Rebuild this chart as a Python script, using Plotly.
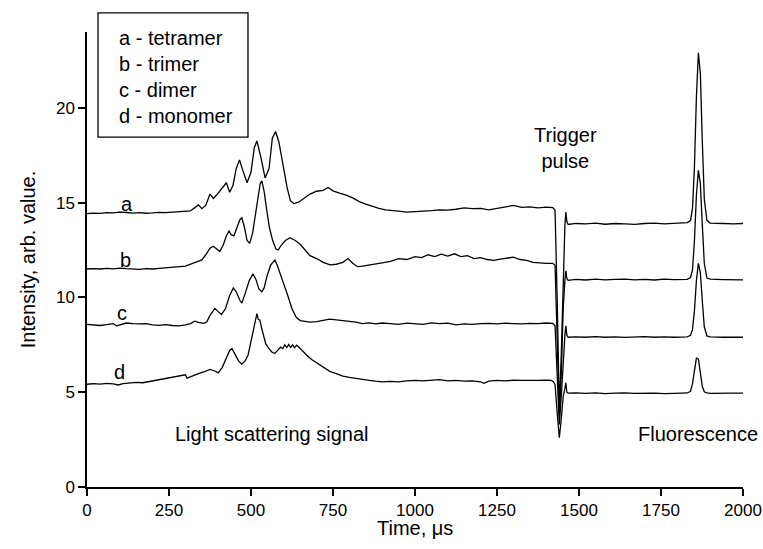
import plotly.graph_objects as go

# scattering part (before the trigger), one time grid per curve
t_a = [0, 20, 40, 60, 80, 100, 120, 140, 160, 180, 200, 220, 240, 260, 280, 300, 315, 330, 340, 350,
       362, 375, 385, 395, 405, 415, 425, 435, 445, 455, 465, 475, 488, 500, 510, 518, 530, 543, 555, 565,
       575, 585, 598, 610, 620, 630, 645, 660, 680, 700, 720, 735, 750, 770, 790, 810, 830, 850, 870, 890,
       910, 930, 950, 975, 1000, 1025, 1050, 1075, 1100, 1125, 1150, 1175, 1200, 1225, 1250, 1275, 1300,
       1325, 1350, 1375, 1400, 1420]
y_a = [14.42, 14.45, 14.43, 14.47, 14.46, 14.50, 14.48, 14.45, 14.47, 14.44, 14.46, 14.49, 14.47, 14.50,
       14.52, 14.53, 14.56, 14.75, 14.88, 14.68, 14.85, 15.45, 15.22, 15.40, 15.60, 15.85, 16.05, 15.55,
       15.90, 16.80, 17.25, 16.70, 16.05, 16.60, 17.90, 18.25, 17.40, 16.30, 16.80, 18.40, 18.75, 18.20,
       16.90, 15.80, 15.10, 14.95, 15.02, 15.20, 15.45, 15.60, 15.65, 15.80, 15.62, 15.50, 15.40, 15.25,
       15.05, 14.92, 14.80, 14.70, 14.62, 14.60, 14.55, 14.50, 14.52, 14.55, 14.58, 14.62, 14.60, 14.65,
       14.72, 14.68, 14.70, 14.62, 14.70, 14.80, 14.85, 14.75, 14.78, 14.72, 14.76, 14.74]

t_b = [0, 20, 40, 60, 80, 100, 120, 140, 160, 180, 200, 220, 240, 260, 280, 300, 320, 335, 350, 362,
       375, 385, 395, 405, 415, 425, 433, 440, 448, 458, 466, 472, 480, 488, 496, 505, 515, 522, 528, 533,
       540, 548, 556, 566, 576, 583, 592, 605, 619, 635, 650, 665, 680, 700, 720, 741, 760, 780, 796, 810,
       825, 840, 860, 880, 900, 925, 950, 975, 1000, 1020, 1040, 1060, 1080, 1100, 1120, 1140, 1160, 1180,
       1200, 1220, 1240, 1260, 1280, 1300, 1320, 1340, 1360, 1380, 1400, 1420]
y_b = [11.50, 11.52, 11.50, 11.53, 11.51, 11.55, 11.52, 11.50, 11.48, 11.52, 11.50, 11.53, 11.55, 11.58,
       11.62, 11.65, 11.78, 11.90, 11.98, 12.25, 12.60, 12.70, 12.55, 12.42, 12.75, 13.25, 13.50, 13.30,
       13.25, 13.75, 14.10, 14.20, 13.70, 13.00, 12.85, 13.40, 14.50, 15.50, 16.00, 16.15, 15.60, 14.60,
       13.70, 13.00, 12.55, 12.50, 12.75, 13.00, 13.15, 13.00, 12.80, 12.50, 12.20, 12.05, 11.85, 11.72,
       11.75, 11.85, 12.05, 11.80, 11.62, 11.65, 11.72, 11.78, 11.82, 11.90, 12.05, 12.00, 12.15, 12.10,
       12.25, 12.15, 12.28, 12.18, 12.30, 12.15, 12.20, 12.05, 12.10, 12.00, 11.95, 12.02, 12.05, 12.12,
       12.00, 11.95, 11.85, 11.82, 11.80, 11.80]

t_c = [0, 20, 40, 60, 80, 90, 100, 120, 140, 160, 180, 200, 220, 240, 260, 280, 300, 315, 329, 340,
       355, 365, 375, 390, 400, 410, 422, 435, 446, 455, 466, 472, 482, 495, 506, 515, 524, 533, 540, 550,
       560, 573, 580, 590, 600, 612, 625, 638, 650, 665, 680, 700, 720, 740, 760, 780, 800, 820, 840, 860,
       880, 900, 925, 950, 975, 1000, 1025, 1050, 1075, 1100, 1125, 1150, 1175, 1200, 1225, 1250, 1275,
       1300, 1325, 1350, 1375, 1400, 1420]
y_c = [8.58, 8.55, 8.52, 8.56, 8.62, 8.50, 8.55, 8.65, 8.62, 8.60, 8.62, 8.55, 8.53, 8.56, 8.52, 8.50,
       8.55, 8.62, 8.75, 8.68, 8.63, 8.70, 9.05, 9.42, 9.25, 9.10, 9.40, 10.10, 10.50, 10.30, 9.85, 9.70,
       10.20, 10.90, 11.25, 10.95, 10.45, 10.30, 10.50, 11.20, 11.70, 11.98, 11.70, 11.20, 10.80, 10.10,
       9.40, 8.95, 8.78, 8.72, 8.70, 8.72, 8.80, 8.85, 8.82, 8.78, 8.72, 8.70, 8.62, 8.66, 8.60, 8.65,
       8.62, 8.58, 8.64, 8.60, 8.58, 8.66, 8.62, 8.64, 8.55, 8.60, 8.58, 8.62, 8.63, 8.60, 8.64, 8.62,
       8.60, 8.63, 8.62, 8.65, 8.63]

t_d = [0, 20, 40, 60, 80, 95, 110, 130, 150, 170, 190, 210, 230, 250, 270, 290, 300, 305, 320, 340,
       360, 375, 390, 400, 412, 425, 435, 442, 450, 462, 472, 482, 491, 500, 508, 514, 518, 522, 527, 535,
       545, 555, 565, 573, 582, 590, 597, 603, 609, 615, 621, 627, 633, 639, 645, 655, 670, 685, 700, 720,
       740, 760, 780, 800, 820, 840, 860, 880, 900, 925, 950, 975, 1000, 1025, 1050, 1075, 1100, 1125,
       1150, 1175, 1200, 1210, 1225, 1250, 1275, 1300, 1325, 1350, 1375, 1400, 1415, 1422]
y_d = [5.42, 5.45, 5.43, 5.47, 5.44, 5.38, 5.45, 5.50, 5.52, 5.50, 5.56, 5.62, 5.68, 5.73, 5.80, 5.85,
       5.92, 5.74, 5.85, 5.98, 6.10, 6.20, 6.12, 6.02, 6.30, 6.85, 7.20, 7.30, 7.05, 6.65, 6.48, 6.65,
       6.95, 7.70, 8.50, 9.00, 9.15, 8.85, 8.80, 8.20, 7.55, 7.30, 7.10, 7.05, 7.20, 7.38, 7.30, 7.50,
       7.35, 7.52, 7.36, 7.50, 7.34, 7.48, 7.40, 7.20, 6.95, 6.72, 6.55, 6.32, 6.10, 5.98, 5.85, 5.78,
       5.72, 5.65, 5.62, 5.58, 5.55, 5.57, 5.55, 5.60, 5.62, 5.60, 5.64, 5.66, 5.60, 5.62, 5.58, 5.60,
       5.55, 5.47, 5.58, 5.62, 5.60, 5.63, 5.62, 5.64, 5.62, 5.63, 5.62, 5.55]

# trigger pulse + fluorescence part, shared time grid
t_post = [1427, 1434, 1440, 1446, 1452, 1457, 1460, 1463, 1467, 1490, 1520, 1550, 1580, 1610, 1640,
          1670, 1700, 1730, 1760, 1790, 1815, 1830, 1840, 1846, 1852, 1858, 1864, 1870, 1876, 1882,
          1890, 1900, 1940, 1970, 2000]
post_a = [14.60, 9.50, 4.10, 7.00, 11.50, 13.80, 14.50, 14.00, 13.85, 13.90, 13.88, 13.92, 13.86, 13.90,
          13.88, 13.85, 13.90, 13.92, 13.88, 13.90, 13.92, 13.95, 14.05, 14.70, 16.90, 20.60, 22.90,
          21.80, 18.20, 15.20, 14.05, 13.92, 13.90, 13.88, 13.90]
post_b = [11.70, 7.50, 3.80, 6.00, 9.50, 10.90, 11.40, 11.00, 10.90, 10.95, 10.92, 10.96, 10.93, 10.95,
          10.97, 10.93, 10.95, 10.92, 10.96, 10.94, 10.95, 10.95, 11.05, 11.45, 13.00, 15.40, 16.70,
          16.00, 13.80, 11.80, 11.02, 10.96, 10.94, 10.95, 10.93]
post_c = [8.50, 5.50, 3.30, 4.80, 7.00, 8.00, 8.50, 8.00, 7.90, 7.92, 7.90, 7.93, 7.90, 7.92, 7.89,
          7.91, 7.93, 7.90, 7.92, 7.90, 7.91, 7.92, 8.00, 8.30, 9.30, 10.90, 11.80, 11.30, 9.80, 8.45,
          7.97, 7.92, 7.90, 7.91, 7.90]
post_d = [5.40, 3.80, 2.60, 3.60, 4.80, 5.20, 5.50, 5.00, 4.95, 4.97, 4.94, 4.96, 4.93, 4.95, 4.97,
          4.94, 4.96, 4.95, 4.93, 4.96, 4.95, 4.96, 5.05, 5.45, 6.20, 6.80, 6.75, 6.00, 5.30, 5.02,
          4.96, 4.94, 4.96, 4.95, 4.95]

curve_labels = ["a", "b", "c", "d"]
label_t = [122, 116, 107, 98]
label_y = [14.95, 12.0, 9.2, 6.05]
legend_lines = ["a - tetramer", "b - trimer", "c - dimer", "d - monomer"]

FONT = "Liberation Sans, Arial, sans-serif"

fig = go.Figure()
for t, y, p in [(t_a, y_a, post_a), (t_b, y_b, post_b), (t_c, y_c, post_c), (t_d, y_d, post_d)]:
    fig.add_trace(go.Scatter(x=t + t_post, y=y + p, mode="lines",
                             line=dict(color="black", width=1.3), showlegend=False))

for lab, x, y in zip(curve_labels, label_t, label_y):
    fig.add_annotation(x=x, y=y, text=lab, showarrow=False, font=dict(size=20))

fig.add_annotation(x=1460, y=17.9, text="Trigger<br>pulse", showarrow=False, font=dict(size=20))
fig.add_annotation(x=561, y=2.8, text="Light scattering signal", showarrow=False, font=dict(size=20))
fig.add_annotation(x=1864, y=2.8, text="Fluorescence", showarrow=False, font=dict(size=20))

# x axis title placed by hand (closer to the ticks than plotly's default)
fig.add_annotation(xref="paper", yref="paper", x=0.5, y=0, yshift=-41, yanchor="middle",
                   text="Time, μs", showarrow=False, font=dict(size=20))

# boxed legend
fig.add_shape(type="rect", xref="paper", yref="paper", x0=0.0168, x1=0.2454, y0=0.769, y1=1.042,
              line=dict(color="black", width=1.3))
fig.add_annotation(xref="paper", yref="paper", x=0.046, y=0.902, xanchor="left", yanchor="middle",
                   align="left", text="<br>".join(legend_lines), showarrow=False, font=dict(size=20))

fig.update_layout(
    width=763, height=549,
    margin=dict(l=87, r=20, t=32, b=62),
    plot_bgcolor="white", paper_bgcolor="white",
    font=dict(family=FONT, color="black", size=17),
)
fig.update_xaxes(range=[0, 2000], tickvals=[0, 250, 500, 750, 1000, 1250, 1500, 1750, 2000],
                 showgrid=False, zeroline=False, showline=True, linecolor="black", linewidth=1.5,
                 ticks="outside", ticklen=7, tickwidth=1.5, tickcolor="black", automargin=False,
                 ticklabeloverflow="allow")
fig.update_yaxes(range=[0, 24], tickvals=[0, 5, 10, 15, 20],
                 showgrid=False, zeroline=False, showline=True, linecolor="black", linewidth=1.5,
                 ticks="outside", ticklen=7, tickwidth=1.5, tickcolor="black", automargin=False,
                 title=dict(text="Intensity, arb. value.", font=dict(size=20)))

# drop the default page margin so the figure fills the window without scrollbars
fig.write_html("out.html", config={"displayModeBar": False},
               post_script="document.body.style.margin='0';document.body.style.overflow='hidden';")
